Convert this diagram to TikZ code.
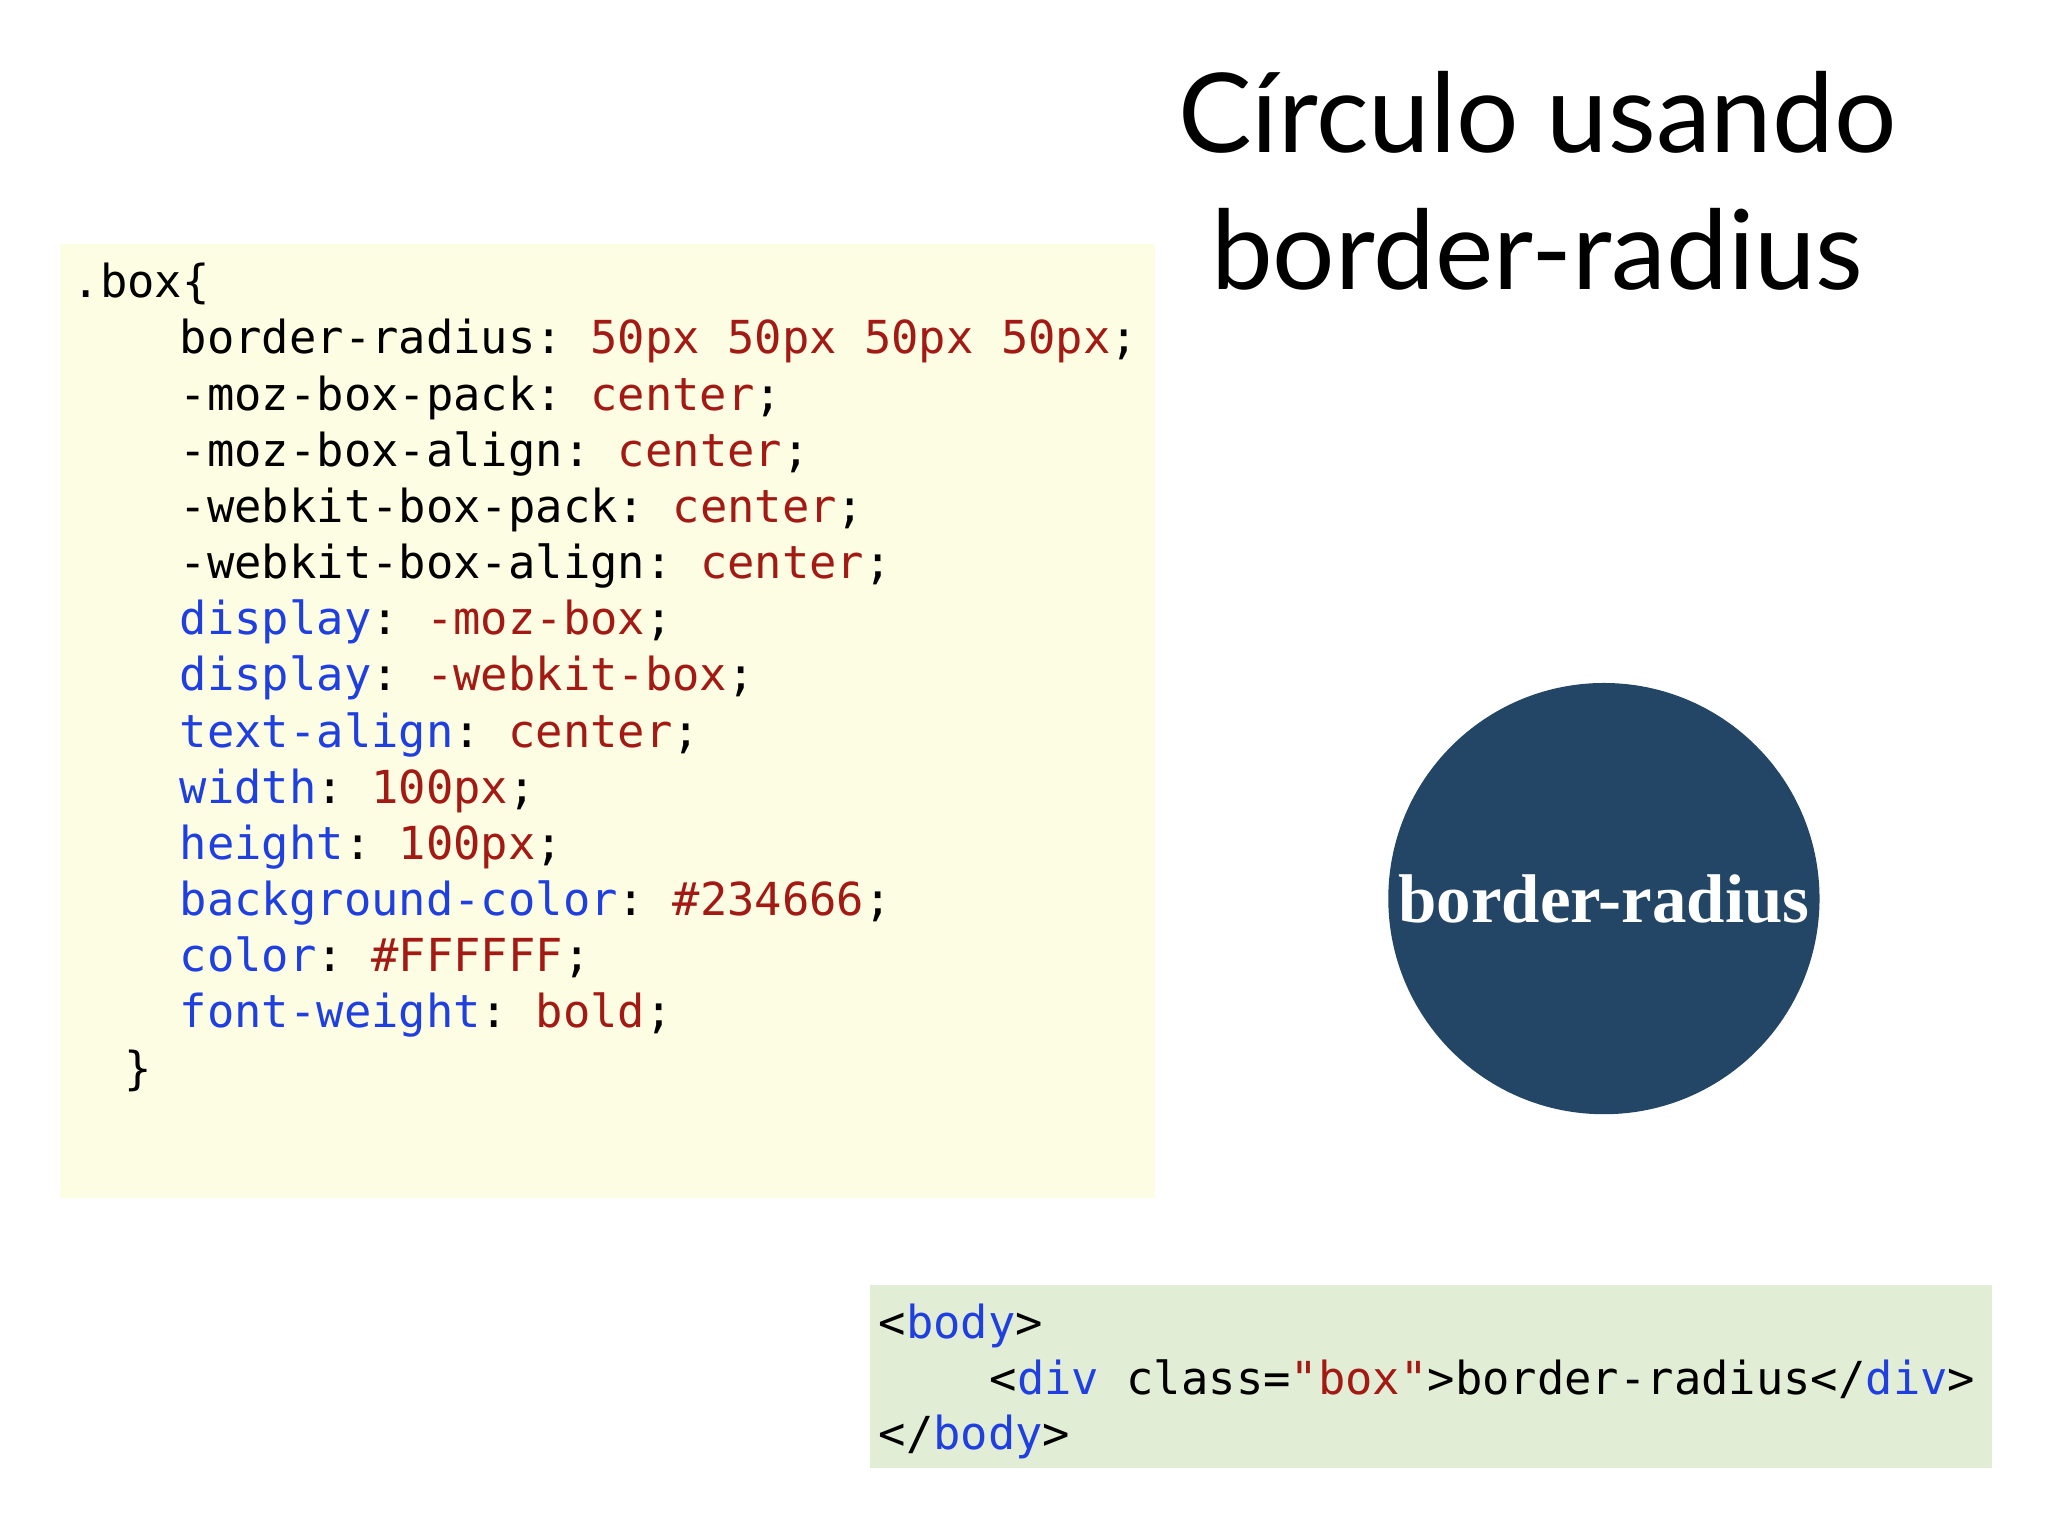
\documentclass[tikz,border=0pt]{standalone}
\usepackage{fontspec}
\setmainfont{Liberation Serif}
\setsansfont{Lato}
\setmonofont{DejaVu Sans Mono}
\definecolor{codered}{HTML}{A31A15}
\definecolor{codeblue}{HTML}{1F3FE0}
\definecolor{ybg}{HTML}{FDFDE3}
\definecolor{gbg}{HTML}{E2EDD6}
\definecolor{circ}{HTML}{234666}
\newcommand{\R}[1]{\textcolor{codered}{#1}}
\newcommand{\B}[1]{\textcolor{codeblue}{#1}}
\begin{document}
\begin{tikzpicture}[x=0.01cm,y=-0.01cm,
  code/.style={anchor=base west,inner sep=0pt,font=\fontsize{9.9pt}{12pt}\ttfamily},
  ttl/.style={anchor=base,inner sep=0pt,font=\fontsize{24pt}{28pt}\sffamily}]
\useasboundingbox[fill=white] (0,0) rectangle (1568,1176);
\fill[ybg] (46,187) rectangle (884,917);
\fill[gbg] (666,984) rectangle (1525,1124);
\node[ttl] (t1) at (1177,117) {Círculo usando};
\node[ttl] (t2) at (1177,222) {border-radius};
\node[circle,fill=circ,minimum size=3.3cm,inner sep=0pt] (c) at (1228,688) {};
\node[inner sep=0pt,text=white,font=\fontsize{15pt}{17pt}\bfseries] (ct) at (1228,688) {border-radius};
\node[code] (l1) at (55,228) {.box\{};
\node[code] (l2) at (137,271) {border-radius: \R{50px 50px 50px 50px};};
\node[code] (l3) at (137,314) {-moz-box-pack: \R{center};};
\node[code] (l4) at (137,357) {-moz-box-align: \R{center};};
\node[code] (l5) at (137,400) {-webkit-box-pack: \R{center};};
\node[code] (l6) at (137,443) {-webkit-box-align: \R{center};};
\node[code] (l7) at (137,486) {\B{display}: \R{-moz-box};};
\node[code] (l8) at (137,529) {\B{display}: \R{-webkit-box};};
\node[code] (l9) at (137,572) {\B{text-align}: \R{center};};
\node[code] (l10) at (137,615) {\B{width}: \R{100px};};
\node[code] (l11) at (137,658) {\B{height}: \R{100px};};
\node[code] (l12) at (137,701) {\B{background-color}: \R{\#234666};};
\node[code] (l13) at (137,744) {\B{color}: \R{\#FFFFFF};};
\node[code] (l14) at (137,787) {\B{font-weight}: \R{bold};};
\node[code] (l15) at (95,830) {\}};
\node[code] (h1) at (672,1025) {<\B{body}>};
\node[code] (h2) at (757,1068) {<\B{div} class=\R{"box"}>border-radius</\B{div}>};
\node[code] (h3) at (672,1110) {</\B{body}>};
\end{tikzpicture}
\end{document}
